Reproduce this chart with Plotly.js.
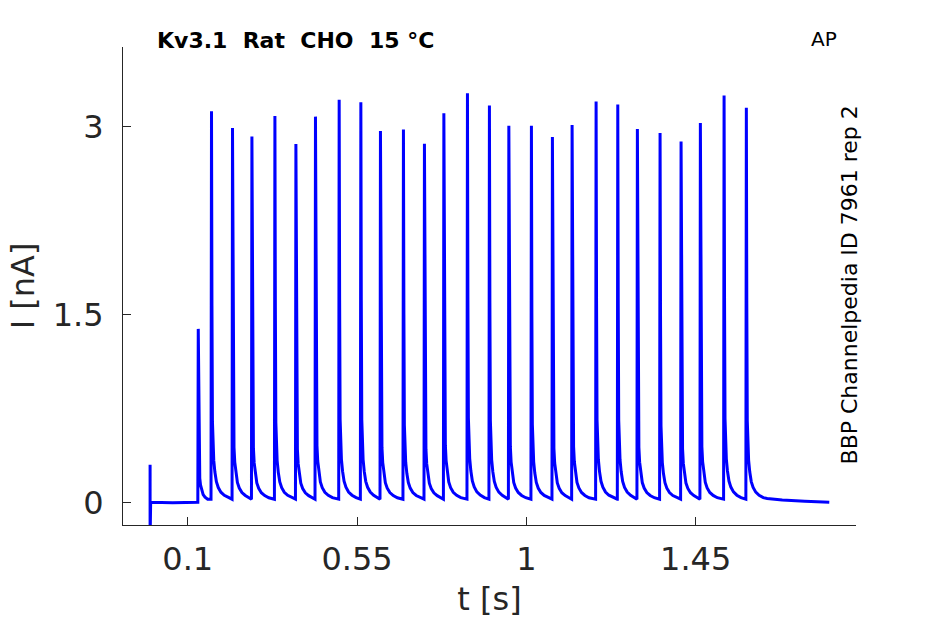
<!DOCTYPE html>
<html>
<head>
<meta charset="utf-8">
<script src="https://cdn.plot.ly/plotly-3.0.1.min.js"></script>
<style>
  body { margin: 0; background: #fff; }
  #chart { width: 945px; height: 624px; }
</style>
</head>
<body>
<div id="chart"></div>
<script>
// spike onset times (s) and peak currents (nA)
var spikeTimes = [0.128, 0.1632, 0.2190, 0.2706, 0.3317, 0.3875, 0.4395, 0.5025, 0.5601,
  0.6122, 0.6733, 0.7291, 0.7807, 0.8434, 0.9018, 0.9534, 1.0134, 1.0692, 1.1215,
  1.1853, 1.2429, 1.2950, 1.3553, 1.4111, 1.4624, 1.5254, 1.5846];
var spikePeaks = [1.385, 3.122, 2.99, 2.922, 3.086, 2.862, 3.08, 3.214, 3.194,
  2.966, 2.978, 2.864, 3.106, 3.266, 3.168, 3.008, 3.008, 2.918, 3.014,
  3.2, 3.176, 2.982, 2.95, 2.882, 3.03, 3.248, 3.15];

// one spike's shape: time after peak (s) and fraction of peak above baseline
var shapeDt = [-0.0012, 0, 0.0012, 0.0025, 0.004, 0.006, 0.009, 0.013, 0.018, 0.025, 0.034, 0.045];
var shapeFrac = [0, 1, 0.5, 0.2, 0.14, 0.1, 0.07, 0.045, 0.03, 0.018, 0.01, 0.004];

// capacitive artefact at t = 0, before the train
var startT = [0, 0, 0.0015, 0.06];
var startI = [0.3, -0.3, 0.0, -0.003];
var interBase = 0.025;

// relaxation after the last spike
var tailT = [1.64, 1.68, 1.74, 1.8, 1.805];
var tailI = [0.03, 0.018, 0.008, 0.002, 0.0];

var t = startT.slice();
var cur = startI.slice();
for (var i = 0; i < spikeTimes.length; i++) {
  var t0 = spikeTimes[i];
  var base = (i === 0) ? 0 : interBase;
  var next = (i + 1 < spikeTimes.length) ? spikeTimes[i + 1] : Infinity;
  for (var j = 0; j < shapeDt.length; j++) {
    if (t0 + shapeDt[j] < next - 0.0015) {
      t.push(t0 + shapeDt[j]);
      cur.push(base + (spikePeaks[i] - base) * shapeFrac[j]);
    }
  }
  if (next !== Infinity) {
    t.push(next - 0.0013);
    cur.push(interBase);
  }
}
t = t.concat(tailT);
cur = cur.concat(tailI);

var trace = {
  x: t,
  y: cur,
  type: 'scatter',
  mode: 'lines',
  line: { color: 'rgb(0,0,255)', width: 3 },
  hoverinfo: 'skip'
};

var txt = '#262626';
var font = 'DejaVu Sans, sans-serif';

var layout = {
  width: 945,
  height: 624,
  margin: { l: 123, r: 89, t: 47, b: 99 },
  paper_bgcolor: '#fff',
  plot_bgcolor: '#fff',
  showlegend: false,
  font: { family: font, color: txt },
  title: {
    text: 'Kv3.1\u00a0\u00a0Rat\u00a0\u00a0CHO\u00a0\u00a015 °C',
    font: { family: font, size: 22, weight: 'bold', color: '#000' },
    xref: 'container', yref: 'container',
    x: 157 / 945, xanchor: 'left',
    y: 1 - 40 / 624, yanchor: 'middle'
  },
  xaxis: {
    range: [-0.072, 1.876],
    tickvals: [0.1, 0.55, 1, 1.45],
    ticktext: ['0.1', '0.55', '1', '1.45'],
    ticks: 'inside', ticklen: 8, tickcolor: txt,
    ticklabelstandoff: 6,
    showline: true, linecolor: txt, linewidth: 1,
    showgrid: false, zeroline: false,
    tickfont: { size: 32, color: txt },
    title: { text: 't [s]', font: { size: 32, color: txt }, standoff: 10 }
  },
  yaxis: {
    range: [-0.181, 3.636],
    tickvals: [0, 1.5, 3],
    ticktext: ['0', '1.5', '3'],
    ticks: 'inside', ticklen: 8, tickcolor: txt,
    ticklabelstandoff: 12,
    showline: true, linecolor: txt, linewidth: 1,
    showgrid: false, zeroline: false,
    tickfont: { size: 32, color: txt },
    title: { text: 'I [nA]', font: { size: 32, color: txt }, standoff: 8 }
  },
  annotations: [
    {
      text: 'AP', xref: 'paper', yref: 'paper',
      x: 0.957, y: 1.017, xanchor: 'center', yanchor: 'middle',
      showarrow: false, font: { size: 20, color: '#000' }
    },
    {
      text: 'BBP Channelpedia ID 7961 rep 2', xref: 'paper', yref: 'paper',
      x: 0.991, y: 0.502, xanchor: 'center', yanchor: 'middle', textangle: -90,
      showarrow: false, font: { size: 22, color: '#000' }
    }
  ]
};

Plotly.newPlot('chart', [trace], layout, { displayModeBar: false, staticPlot: true });
</script>
</body>
</html>
